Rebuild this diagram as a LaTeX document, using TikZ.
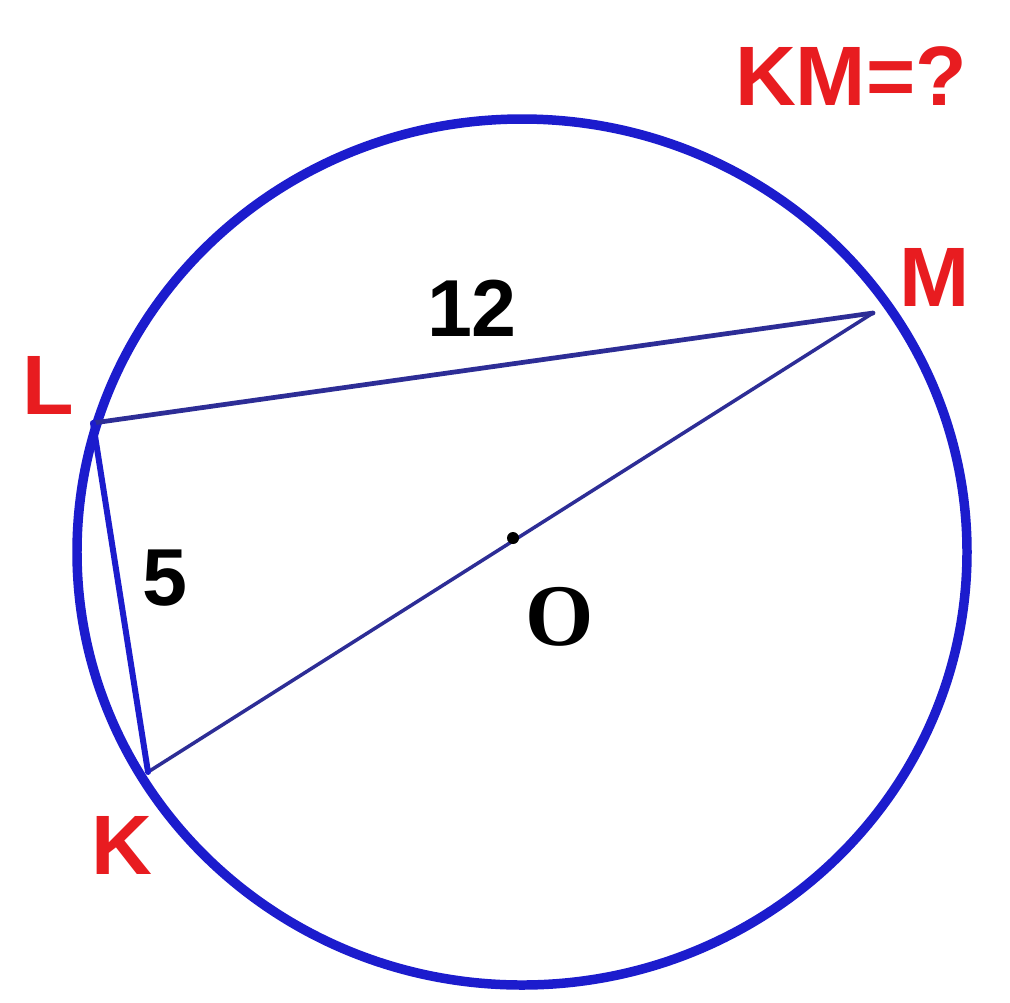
\documentclass[tikz,border=0pt]{standalone}
\usepackage{fontspec}
\setmainfont{Liberation Sans}
\newfontfamily\serifbold{Liberation Serif}
\usepackage{xcolor}
\usepackage{tikz}
\usetikzlibrary{positioning}

\definecolor{ringblue}{RGB}{28,28,205}
\definecolor{chordblue}{RGB}{45,45,150}
\definecolor{labelred}{RGB}{232,28,32}

\begin{document}
\begin{tikzpicture}[
    x=0.02cm, y=-0.02cm,
    ring/.style={draw=ringblue, line width=5.4pt},
    chord/.style={draw=chordblue, line width=#1, line cap=round},
    ptlabel/.style={text=labelred, font=\fontsize{48}{48}\selectfont\bfseries, inner sep=0pt},
    numlabel/.style={text=black, font=\fontsize{46}{46}\selectfont\bfseries, inner sep=0pt}
]
    \useasboundingbox (0,0) rectangle (1010,1002);
    \fill[white] (0,0) rectangle (1010,1002);

    \coordinate (L) at (93,423);
    \coordinate (M) at (873,313);
    \coordinate (K) at (148,772);
    \coordinate (O) at (513,538);

    \draw[ring] (522,552) ellipse [x radius=445, y radius=433];

    \draw[chord=2.7pt] (L) -- (M);
    \draw[chord=2pt] (K) -- (M);
    \draw[chord=3.4pt, draw=ringblue] (L) -- (K);
    \fill[black] (O) circle [radius=6];

    \node[ptlabel] (question) at (851,76) {KM=?};
    \node[ptlabel] (labM) at (935,277) {M};
    \node[ptlabel] (labL) at (48,385) {L};
    \node[ptlabel] (labK) at (122,845) {K};

    \node[numlabel] (lenLM) at (472,308) {12};
    \node[numlabel] (lenLK) at (165,578) {5};
    \node[numlabel, font=\fontsize{50}{50}\selectfont\serifbold\bfseries] (labO) at (560,617) {O};
\end{tikzpicture}
\end{document}
